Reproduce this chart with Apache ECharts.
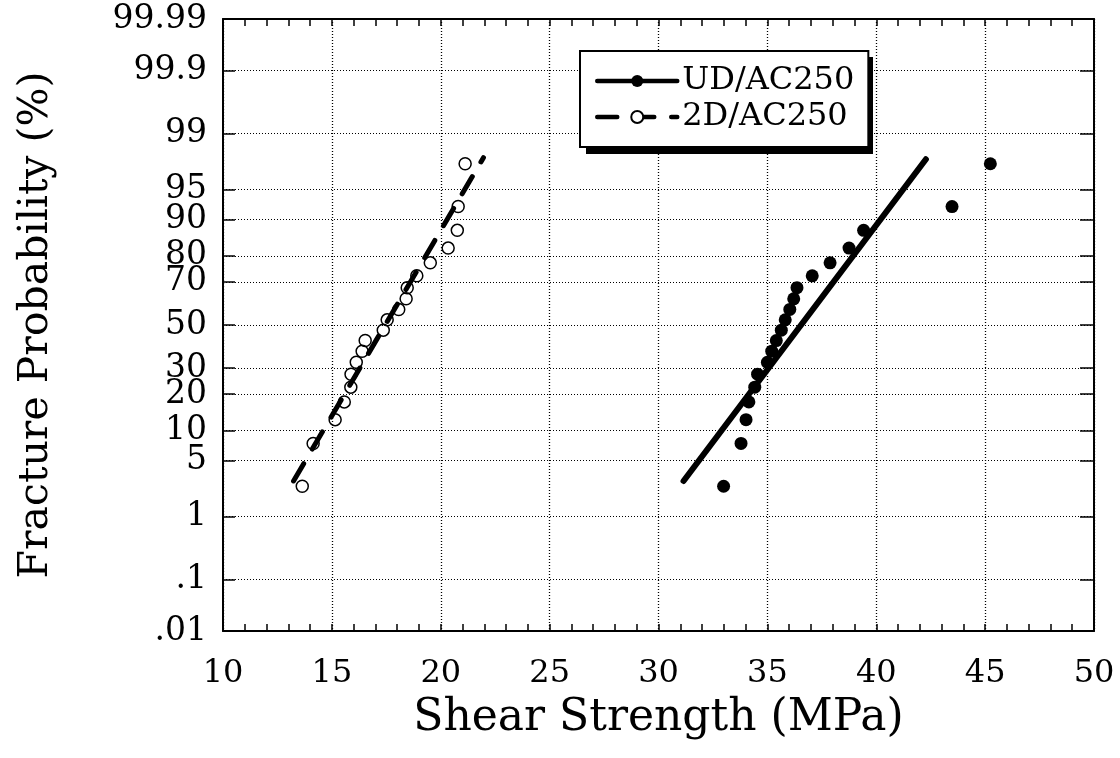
<!DOCTYPE html>
<html>
<head>
<meta charset="utf-8">
<script src="https://cdn.jsdelivr.net/npm/echarts@6/dist/echarts.min.js"></script>
<style>
  html, body { margin: 0; padding: 0; background: #fff; }
  #chart { width: 1120px; height: 758px; }
</style>
</head>
<body>
<div id="chart"></div>
<script>
// fracture probability of each ranked specimen (%), same for both sets
const probPct = [2.5, 7.5, 12.5, 17.5, 22.5, 27.5, 32.5, 37.5, 42.5, 47.5,
  52.5, 57.5, 62.5, 67.5, 72.5, 77.5, 82.5, 87.5, 92.5, 97.5]
const udStrength = [32.99, 33.79, 34.02, 34.15, 34.42, 34.55, 35.0, 35.2, 35.41, 35.64,
  35.82, 36.03, 36.21, 36.36, 37.06, 37.88, 38.75, 39.42, 43.48, 45.24]
const twoDStrength = [13.64, 14.14, 15.15, 15.57, 15.87, 15.88, 16.12, 16.39, 16.53, 17.36,
  17.54, 18.07, 18.41, 18.46, 18.9, 19.52, 20.34, 20.76, 20.8, 21.12]

// fitted lines: end points
const udFitStrength = [31.15, 42.28]
const udFitPct = [2.9, 97.8]
const twoDFitStrength = [13.24, 21.96]
const twoDFitPct = [2.9, 97.9]

const probTicks = [0.01, 0.1, 1, 5, 10, 20, 30, 50, 70, 80, 90, 95, 99, 99.9, 99.99]
const probTickLabels = ['.01', '.1', '1', '5', '10', '20', '30', '50', '70', '80', '90', '95', '99', '99.9', '99.99']

// normal probability paper: y axis is the standard normal quantile of p
function probit(p) {
  const a = [-3.969683028665376e+01, 2.209460984245205e+02, -2.759285104469687e+02,
    1.383577518672690e+02, -3.066479806614716e+01, 2.506628277459239e+00]
  const b = [-5.447609879822406e+01, 1.615858368580409e+02, -1.556989798598866e+02,
    6.680131188771972e+01, -1.328068155288572e+01]
  const c = [-7.784894002430293e-03, -3.223964580411365e-01, -2.400758277161838e+00,
    -2.549671324505578e+00, 4.374664141464968e+00, 2.938163982698783e+00]
  const d = [7.784695709041462e-03, 3.224671290700398e-01, 2.445134137142996e+00,
    3.754408661907416e+00]
  const pl = 0.02425
  let q, r
  if (p < pl) {
    q = Math.sqrt(-2 * Math.log(p))
    return (((((c[0] * q + c[1]) * q + c[2]) * q + c[3]) * q + c[4]) * q + c[5]) /
      ((((d[0] * q + d[1]) * q + d[2]) * q + d[3]) * q + 1)
  }
  if (p <= 1 - pl) {
    q = p - 0.5
    r = q * q
    return (((((a[0] * r + a[1]) * r + a[2]) * r + a[3]) * r + a[4]) * r + a[5]) * q /
      (((((b[0] * r + b[1]) * r + b[2]) * r + b[3]) * r + b[4]) * r + 1)
  }
  q = Math.sqrt(-2 * Math.log(1 - p))
  return -(((((c[0] * q + c[1]) * q + c[2]) * q + c[3]) * q + c[4]) * q + c[5]) /
    ((((d[0] * q + d[1]) * q + d[2]) * q + d[3]) * q + 1)
}
const z = pct => probit(pct / 100)

const tickZ = probTicks.map(z)
const zMin = tickZ[0]
const zMax = tickZ[tickZ.length - 1]

function tickLabel(v) {
  let best = 0
  tickZ.forEach((t, i) => { if (Math.abs(t - v) < Math.abs(tickZ[best] - v)) best = i })
  return probTickLabels[best]
}

const pairs = (xs, ps) => xs.map((x, i) => [x, z(ps[i])])

const FONT = 'DejaVu Serif'
const dotted = { color: '#000', width: 1, type: [1, 2] }
const frame = { onZero: false, lineStyle: { color: '#000', width: 2 } }

const chart = echarts.init(document.getElementById('chart'))
chart.setOption({
  animation: false,
  backgroundColor: '#fff',
  textStyle: { fontFamily: FONT, color: '#000' },
  grid: { left: 223, right: 26, top: 19, bottom: 127, containLabel: false },
  // hard drop shadow of the legend box
  graphic: [
    { type: 'rect', left: 586, top: 57, z: 3, shape: { width: 287, height: 97 }, style: { fill: '#000' } },
  ],
  legend: {
    orient: 'vertical',
    left: 580,
    top: 51,
    z: 5,
    padding: [14, 14, 14, 15],
    itemWidth: 80,
    itemHeight: 15,
    itemGap: 4,
    backgroundColor: '#fff',
    borderColor: '#000',
    borderWidth: 2,
    borderRadius: 0,
    lineStyle: { width: 4.5 },
    textStyle: { fontFamily: FONT, fontSize: 32, color: '#000', lineHeight: 32 },
    data: ['UD/AC250', '2D/AC250'],
  },
  xAxis: [
    {
      type: 'value',
      position: 'bottom',
      min: 10,
      max: 50,
      interval: 5,
      name: 'Shear Strength (MPa)',
      nameLocation: 'middle',
      nameGap: 66,
      nameTextStyle: { fontFamily: FONT, fontSize: 44, color: '#000' },
      axisLine: frame,
      axisTick: { inside: true, length: 7, lineStyle: { color: '#000', width: 1.5 } },
      minorTick: { show: true, splitNumber: 5, length: 7, lineStyle: { color: '#000', width: 1.5 } },
      axisLabel: { fontFamily: FONT, fontSize: 32, color: '#000', margin: 27 },
      splitLine: { show: true, lineStyle: { ...dotted, width: 1.3 } },
    },
    {
      type: 'value',
      position: 'top',
      min: 10,
      max: 50,
      interval: 5,
      axisLine: frame,
      axisTick: { inside: true, length: 7, lineStyle: { color: '#000', width: 1.5 } },
      minorTick: { show: true, splitNumber: 5, length: 7, lineStyle: { color: '#000', width: 1.5 } },
      axisLabel: { show: false },
      splitLine: { show: false },
    },
  ],
  yAxis: [
    {
      type: 'value',
      position: 'left',
      min: zMin,
      max: zMax,
      name: 'Fracture Probability (%)',
      nameLocation: 'middle',
      nameGap: 166,
      nameTextStyle: { fontFamily: FONT, fontSize: 41, color: '#000' },
      axisLine: frame,
      axisTick: { inside: true, length: 12, customValues: tickZ, lineStyle: { color: '#000', width: 1.5 } },
      axisLabel: {
        fontFamily: FONT,
        fontSize: 33,
        color: '#000',
        margin: 16,
        customValues: tickZ,
        formatter: v => tickLabel(v),
      },
      splitLine: { show: true, lineStyle: dotted },
    },
    {
      type: 'value',
      position: 'right',
      min: zMin,
      max: zMax,
      axisLine: frame,
      axisTick: { inside: true, length: 14, customValues: tickZ, lineStyle: { color: '#000', width: 1.5 } },
      axisLabel: { show: false, customValues: tickZ },
      splitLine: { show: false },
    },
  ],
  series: [
    {
      name: 'UD/AC250',
      type: 'line',
      data: pairs(udFitStrength, udFitPct),
      symbol: 'circle',
      showSymbol: false,
      color: '#000',
      lineStyle: { color: '#000', width: 6, cap: 'round' },
      z: 3,
    },
    {
      name: '2D/AC250',
      type: 'line',
      data: pairs(twoDFitStrength, twoDFitPct),
      symbol: 'emptyCircle',
      showSymbol: false,
      color: '#000',
      lineStyle: { color: '#000', width: 5, type: [20, 17], cap: 'round' },
      z: 3,
    },
    {
      name: 'UD/AC250',
      type: 'scatter',
      data: pairs(udStrength, probPct),
      symbol: 'circle',
      symbolSize: 13,
      itemStyle: { color: '#000', opacity: 1 },
      z: 2,
    },
    {
      name: '2D/AC250',
      type: 'scatter',
      data: pairs(twoDStrength, probPct),
      symbol: 'circle',
      symbolSize: 12,
      itemStyle: { color: 'rgba(255,255,255,0)', borderColor: '#000', borderWidth: 1.5, opacity: 1 },
      z: 2,
    },
  ],
})
</script>
</body>
</html>
